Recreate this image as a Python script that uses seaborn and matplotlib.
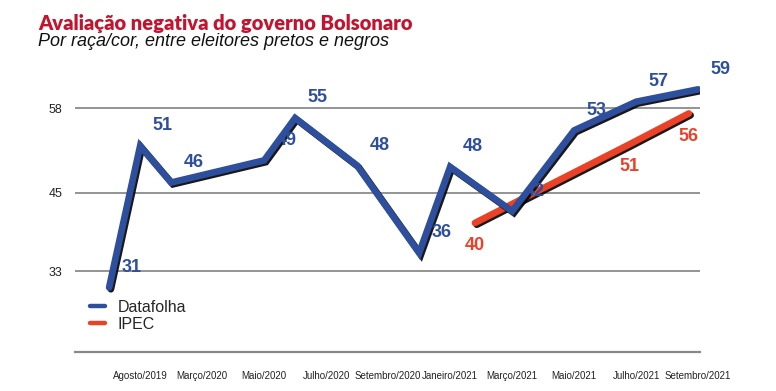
import matplotlib
matplotlib.use('Agg')
import matplotlib.pyplot as plt
import matplotlib.patheffects as pe
from matplotlib.lines import Line2D
import pandas as pd
import seaborn as sns

# tick labels (months of each survey)
months = ['Agosto/2019', 'Março/2020', 'Maio/2020', 'Julho/2020', 'Setembro/2020',
          'Janeiro/2021', 'Março/2021', 'Maio/2021', 'Julho/2021', 'Setembro/2021']

# Datafolha: position along the month axis, drawn height, printed label
df_pos = [-0.5, 0, 0.5, 2, 2.5, 3.5, 4.5, 5, 6, 7, 8, 9]
df_val = [30.5, 52.2, 46.6, 50.0, 56.5, 49.2, 35.8, 49.0, 42.2, 54.6, 59.0, 60.9]
df_lab = ['31', '51', '46', '49', '55', '48', '36', '48', '42', '53', '57', '59']

# IPEC
ipec_pos = [5.4, 7.9, 8.85]
ipec_val = [40.4, 52.5, 57.2]
ipec_lab = ['40', '51', '56']

yticks = [33, 45, 58]

BLUE = '#2d4f9e'
RED = '#ea4127'
TITLE_RED = '#c4122f'

sns.set_theme(style='white')
plt.rcParams['font.family'] = ['Liberation Sans', 'DejaVu Sans']

fig = plt.figure(figsize=(7.76, 3.91), dpi=100)
ax = fig.add_axes([75 / 776, 39 / 391, 625 / 776, 292 / 391])

shadow = [pe.SimpleLineShadow(offset=(1.3, -1.3), shadow_color='black', alpha=0.9), pe.Normal()]

datafolha = pd.DataFrame({'x': df_pos, 'y': df_val})
ipec = pd.DataFrame({'x': ipec_pos, 'y': ipec_val})

sns.lineplot(data=datafolha, x='x', y='y', ax=ax, color=BLUE, lw=4.8, sort=False,
             solid_joinstyle='miter', path_effects=shadow, zorder=4)
sns.lineplot(data=ipec, x='x', y='y', ax=ax, color=RED, lw=4.8, sort=False,
             path_effects=shadow, zorder=3)

for x, y, t in zip(df_pos, df_val, df_lab):
    ax.annotate(t, (x, y), xytext=(16, 14.5), textcoords='offset points',
                ha='center', va='center', fontsize=13, fontweight='bold', color=BLUE, zorder=6)
for x, y, t in zip(ipec_pos, ipec_val, ipec_lab):
    ax.annotate(t, (x, y), xytext=(0, -16.5), textcoords='offset points',
                ha='center', va='center', fontsize=13, fontweight='bold', color=RED, zorder=6)

for yv in yticks:
    ax.axhline(yv, color='#777777', lw=1.1, zorder=1)

ax.set_xlim(-1.05, 9.03)
ax.set_ylim(20.6, 65.4)
ax.set_xticks(range(len(months)))
ax.set_xticklabels(months, fontsize=7, color='#222222')
ax.set_yticks(yticks)
ax.set_yticklabels([str(v) for v in yticks], fontsize=9, color='#222222')
ax.tick_params(axis='x', length=0, pad=14)
ax.tick_params(axis='y', length=0, pad=9)
ax.set_xlabel('')
ax.set_ylabel('')
ax.grid(False)
for s in ['top', 'right', 'left']:
    ax.spines[s].set_visible(False)
ax.spines['bottom'].set_color('#888888')
ax.spines['bottom'].set_linewidth(1.6)

handles = [Line2D([], [], color=BLUE, lw=3.2), Line2D([], [], color=RED, lw=3.2)]
ax.legend(handles, ['Datafolha', 'IPEC'], loc='upper left', bbox_to_anchor=(0.009, 0.212),
          frameon=False, fontsize=11.5, handlelength=0.95, handletextpad=0.75,
          labelspacing=0.15, borderaxespad=0.2)

fig.text(38 / 776, 1 - 30 / 391, 'Avaliação negativa do governo Bolsonaro',
         fontsize=14.5, fontweight='heavy', color=TITLE_RED, family=['Lato', 'Liberation Sans'])
fig.text(38 / 776, 1 - 46.5 / 391, 'Por raça/cor, entre eleitores pretos e negros',
         fontsize=13, style='italic', color='#111111')

fig.savefig('out.png', dpi=100)
